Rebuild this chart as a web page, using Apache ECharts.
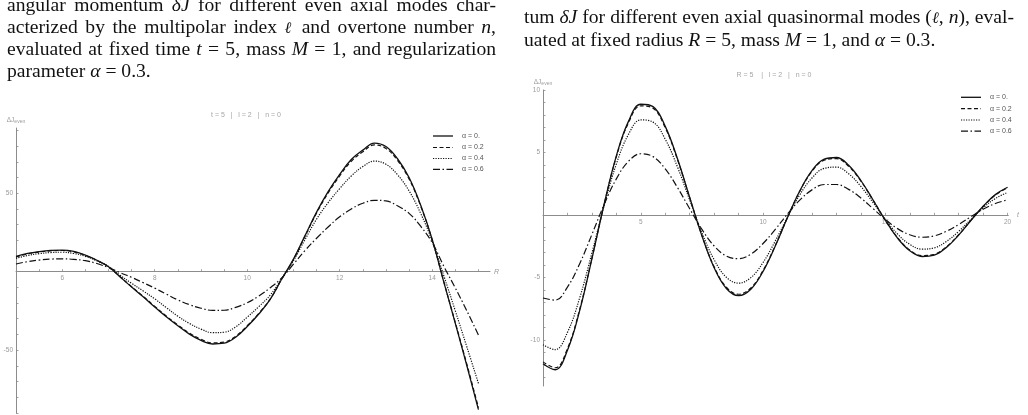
<!DOCTYPE html>
<html>
<head>
<meta charset="utf-8">
<title>delta J even modes</title>
<script src="https://cdn.jsdelivr.net/npm/echarts@6.0.0/dist/echarts.min.js"></script>
<style>
  body { margin: 0; background: #fff; }
  #wrap { position: relative; width: 1028px; height: 415px; overflow: hidden; }
  #chart { position: absolute; left: 0; top: 0; width: 1028px; height: 415px; }
  .cap {
    position: absolute;
    font-family: 'Liberation Serif', 'DejaVu Serif', serif;
    font-size: 19.6px;
    line-height: 21.5px;
    color: #111;
  }
  .cap .j { text-align: justify; text-align-last: justify; }
  .cap .l { text-align: left; }
  .ell { font-family: 'DejaVu Serif', serif; font-size: 16px; font-style: italic; }
</style>
</head>
<body>
<div id="wrap">
  <div id="chart"></div>
  <div class="cap" style="left:7px; top:-6px; width:489px;">
    <div class="j">angular momentum <i>δJ</i> for different even axial modes char-</div>
    <div class="j">acterized by the multipolar index <span class="ell">ℓ</span> and overtone number <i>n</i>,</div>
    <div class="j">evaluated at fixed time <i>t</i> = 5, mass <i>M</i> = 1, and regularization</div>
    <div class="l">parameter <i>α</i> = 0.3.</div>
  </div>
  <div class="cap" style="left:524px; top:6px; width:490px;">
    <div class="j">tum <i>δJ</i> for different even axial quasinormal modes (<span class="ell">ℓ</span>, <i>n</i>), eval-</div>
    <div class="l">uated at fixed radius <i>R</i> = 5, mass <i>M</i> = 1, and <i>α</i> = 0.3.</div>
  </div>
</div>
<script type="text/javascript">
  // legend names
  const alphaNames = ['α = 0.', 'α = 0.2', 'α = 0.4', 'α = 0.6']

  // left panel: t = 5, radius R on the x axis
  const radius = [5, 5.25, 5.5, 5.75, 6, 6.25, 6.5, 6.75, 7, 7.25, 7.5, 7.75, 8, 8.25, 8.5, 8.75,
    9, 9.25, 9.5, 9.75, 10, 10.25, 10.5, 10.75, 11, 11.25, 11.5, 11.75, 12, 12.25, 12.5, 12.75,
    13, 13.25, 13.5, 13.75, 14, 14.25, 14.5, 14.75, 15]
  const djR_a00 = [9.8, 11.6, 12.8, 13.6, 13.8, 12.9, 10.6, 7.3, 3.2, -3.3, -9.8, -16.0, -22.5, -28.8,
    -34.5, -39.8, -43.8, -46.1, -45.6, -41.8, -35.0, -27.0, -17.5, -4.5, 8.0, 23.0, 38.0, 51.0, 62.0,
    71.5, 77.5, 82.0, 79.8, 72.0, 60.0, 42.5, 20.5, -6.5, -33.0, -60.0, -88.0]
  const djR_a02 = [9.3, 11.3, 12.5, 13.3, 13.5, 12.6, 10.4, 7.2, 3.1, -3.2, -9.6, -15.7, -22.1, -28.3,
    -34.0, -39.2, -43.1, -45.4, -44.9, -41.2, -34.5, -26.6, -17.3, -4.5, 7.8, 22.6, 37.4, 50.2, 61.1,
    70.4, 76.4, 80.8, 78.6, 70.9, 59.1, 41.9, 20.3, -6.3, -32.5, -59.1, -86.7]
  const djR_a04 = [8.5, 10.3, 11.5, 12.2, 12.4, 11.6, 9.8, 6.9, 3.3, -2.3, -7.4, -12.3, -17.3, -22.9,
    -28.4, -33.0, -36.6, -38.9, -38.6, -35.2, -29.0, -22.3, -14.8, -4.2, 7.0, 20.5, 33.5, 44.0, 53.0,
    61.0, 67.0, 70.5, 68.5, 61.8, 51.5, 37.2, 19.5, -2.5, -25.0, -48.0, -71.2]
  const djR_a06 = [4.9, 6.4, 7.4, 8.0, 8.2, 7.9, 7.0, 5.2, 2.6, -0.6, -3.6, -7.0, -10.5, -14.3,
    -18.0, -21.0, -23.3, -24.7, -24.6, -22.8, -19.8, -15.5, -10.2, -3.9, 4.8, 13.5, 21.3, 28.5, 35.0,
    40.0, 43.6, 45.5, 45.1, 42.0, 37.2, 29.0, 18.5, 3.5, -10.4, -25.0, -40.4]
  const rTicks = [5.5, 6, 6.5, 7, 7.5, 8, 8.5, 9, 9.5, 10, 10.5, 11, 11.5, 12, 12.5, 13, 13.5, 14, 14.5, 15]
  const rLabels = [6, 8, 10, 12, 14]
  const djRTicks = [-90, -80, -70, -60, -50, -40, -30, -20, -10, 10, 20, 30, 40, 50, 60, 70, 80, 90]
  const djRLabels = [-50, 50]

  // right panel: R = 5, time t on the x axis
  const time = [1, 1.5, 2, 2.5, 3, 3.5, 4, 4.5, 5, 5.5, 6, 6.5, 7, 7.5, 8, 8.5, 9, 9.5, 10, 10.5,
    11, 11.5, 12, 12.5, 13, 13.5, 14, 14.5, 15, 15.5, 16, 16.5, 17, 17.5, 18, 18.5, 19, 19.5, 20]
  const djT_a00 = [-11.90, -12.38, -10.82, -7.65, -3.51, 0.86, 4.73, 7.51, 8.86, 8.67, 7.09, 4.50, 1.40,
    -1.67, -4.22, -5.88, -6.45, -5.94, -4.51, -2.48, -0.20, 1.92, 3.55, 4.47, 4.60, 3.98, 2.76, 1.20,
    -0.42, -1.85, -2.86, -3.32, -3.21, -2.59, -1.61, -0.44, 0.70, 1.63, 2.22]
  const djT_a02 = [-11.75, -12.22, -10.68, -7.55, -3.46, 0.85, 4.66, 7.40, 8.73, 8.54, 6.98, 4.43, 1.38,
    -1.64, -4.15, -5.78, -6.34, -5.84, -4.43, -2.44, -0.20, 1.89, 3.49, 4.39, 4.51, 3.90, 2.71, 1.18,
    -0.41, -1.81, -2.80, -3.25, -3.14, -2.54, -1.58, -0.43, 0.68, 1.59, 2.17]
  const djT_a04 = [-10.38, -10.77, -9.39, -6.63, -3.04, 0.74, 4.08, 6.46, 7.61, 7.43, 6.06, 3.84, 1.19,
    -1.42, -3.58, -4.98, -5.45, -5.01, -3.80, -2.08, -0.17, 1.61, 2.96, 3.73, 3.83, 3.30, 2.29, 0.99,
    -0.35, -1.52, -2.35, -2.73, -2.63, -2.12, -1.31, -0.36, 0.57, 1.32, 1.80]
  const djT_a06 = [-6.64, -6.81, -5.77, -3.90, -1.56, 0.84, 2.89, 4.30, 4.90, 4.67, 3.69, 2.20, 0.50,
    -1.15, -2.48, -3.28, -3.49, -3.13, -2.28, -1.15, 0.08, 1.19, 2.01, 2.44, 2.44, 2.05, 1.36, 0.51,
    -0.35, -1.09, -1.58, -1.78, -1.67, -1.30, -0.76, -0.14, 0.46, 0.92, 1.21]
  const tTicks = [2, 3, 4, 5, 6, 7, 8, 9, 10, 11, 12, 13, 14, 15, 16, 17, 18, 19, 20]
  const tLabels = [5, 10, 15, 20]
  const djTTicks = [-13, -12, -11, -10, -9, -8, -7, -6, -5, -4, -3, -2, -1, 1, 2, 3, 4, 5, 6, 7, 8, 9, 10]
  const djTLabels = [-10, -5, 5, 10]

  const axisGray = '#8c8c8c'
  const labelGray = '#9a9a9a'
  const lineStyles = [
    { type: 'solid', width: 1.3 },
    { type: [4, 2.5], width: 1.2 },
    { type: [1.2, 1.3], width: 1.2 },
    { type: [7, 2.5, 1.5, 2.5], width: 1.2 }
  ]
  const dashes = [null, [4, 2.5], [1.2, 1.3], [7, 2.5, 1.5, 2.5]]

  // x axis sits on y = 0: move it up from the grid bottom by offset
  function xAxisFor(idx, min, max, name, ticks, labels, offset) {
    return {
      type: 'value', gridIndex: idx, min: min, max: max, offset: offset,
      name: name, nameLocation: 'end', nameGap: 4,
      nameTextStyle: { color: labelGray, fontSize: 7, fontStyle: 'italic', fontFamily: 'Liberation Sans' },
      axisLine: { onZero: false, lineStyle: { color: axisGray, width: 1 } },
      axisTick: { show: true, inside: true, length: 2.5, customValues: ticks, lineStyle: { color: axisGray, width: 0.8 } },
      axisLabel: { customValues: labels, fontSize: 6.5, color: labelGray, margin: 3, fontFamily: 'Liberation Sans' },
      splitLine: { show: false }
    }
  }

  function yAxisFor(idx, min, max, ticks, labels) {
    return {
      type: 'value', gridIndex: idx, min: min, max: max,
      name: 'ΔJ{s|even}', nameLocation: 'end', nameGap: 4,
      nameTextStyle: {
        color: labelGray, fontSize: 6.5, fontFamily: 'Liberation Sans', align: 'center',
        rich: { s: { fontSize: 5, color: labelGray, verticalAlign: 'bottom', padding: [3, 0, 0, 0] } }
      },
      axisLine: { show: true, lineStyle: { color: axisGray, width: 1 } },
      axisTick: { show: true, inside: true, length: 2.5, customValues: ticks, lineStyle: { color: axisGray, width: 0.8 } },
      axisLabel: { customValues: labels, fontSize: 6.5, color: labelGray, margin: 3, fontFamily: 'Liberation Sans' },
      splitLine: { show: false }
    }
  }

  function makeSeries(xs, ys, k, gi) {
    return {
      name: alphaNames[k], type: 'line', xAxisIndex: gi, yAxisIndex: gi,
      data: xs.map((x, i) => [x, ys[i]]),
      symbol: 'none', smooth: 0.4,
      lineStyle: Object.assign({ color: '#111' }, lineStyles[k]),
      z: 10 - k
    }
  }

  // hand-made legend (line sample + label) for one panel
  function legendFor(x0, rows) {
    const items = []
    rows.forEach((y, k) => {
      items.push({ type: 'line', shape: { x1: x0, y1: y, x2: x0 + 20, y2: y },
        style: { stroke: '#111', lineWidth: k === 0 ? 1.3 : 1.2, lineDash: dashes[k] } })
      items.push({ type: 'text', x: x0 + 29, y: y, style: { text: alphaNames[k], fill: '#555', fontSize: 7,
        fontFamily: 'Liberation Sans', verticalAlign: 'middle' } })
    })
    return items
  }

  const chart = echarts.init(document.getElementById('chart'), null, { renderer: 'canvas' })
  const option = {
    animation: false,
    grid: [
      { left: 16, top: 128, width: 474, height: 285 },
      { left: 543, top: 90, width: 465.3, height: 296 }
    ],
    xAxis: [
      xAxisFor(0, 5, 15.25, 'R', rTicks, rLabels, -141.3),
      xAxisFor(1, 1, 20.03, 't', tTicks, tLabels, -170.7)
    ],
    yAxis: [
      yAxisFor(0, -90.1, 91.6, djRTicks, djRLabels),
      yAxisFor(1, -13.68, 10, djTTicks, djTLabels)
    ],
    graphic: [
      { type: 'text', x: 246, y: 115, style: { text: 't = 5   |   l = 2   |   n = 0', align: 'center', verticalAlign: 'middle',
        fill: '#a6a6a6', fontSize: 7, fontFamily: 'Liberation Sans' } },
      { type: 'text', x: 774, y: 75, style: { text: 'R = 5    |   l = 2   |   n = 0', align: 'center', verticalAlign: 'middle',
        fill: '#a6a6a6', fontSize: 7, fontFamily: 'Liberation Sans' } }
    ].concat(legendFor(433, [136, 147.5, 158.5, 169.3]), legendFor(961, [97.3, 108.7, 120, 131.2])),
    series: [
      makeSeries(radius, djR_a00, 0, 0),
      makeSeries(radius, djR_a02, 1, 0),
      makeSeries(radius, djR_a04, 2, 0),
      makeSeries(radius, djR_a06, 3, 0),
      makeSeries(time, djT_a00, 0, 1),
      makeSeries(time, djT_a02, 1, 1),
      makeSeries(time, djT_a04, 2, 1),
      makeSeries(time, djT_a06, 3, 1)
    ]
  }
  chart.setOption(option)
</script>
</body>
</html>
